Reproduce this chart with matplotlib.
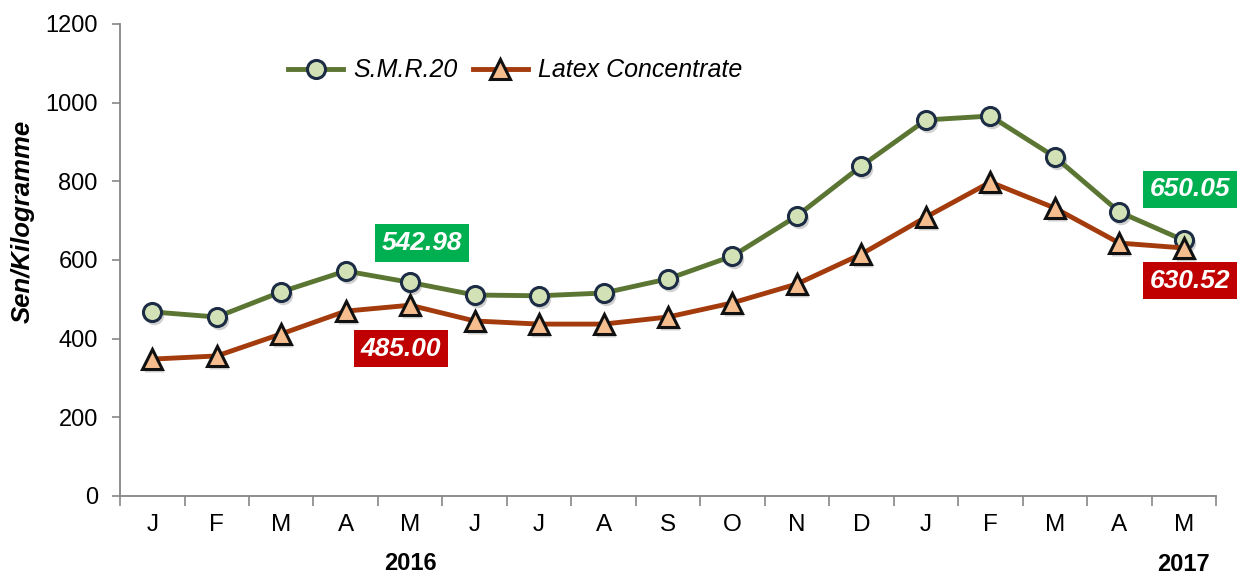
import numpy as np
import matplotlib.pyplot as plt
from matplotlib.transforms import offset_copy

# Monthly prices, Jan 2016 - May 2017
months = ['J', 'F', 'M', 'A', 'M', 'J', 'J', 'A', 'S', 'O', 'N', 'D', 'J', 'F', 'M', 'A', 'M']
smr20 = [468, 455, 519, 572, 542.98, 511, 509, 516, 552, 610, 712, 839, 956, 966, 862, 722, 650.05]
latex = [348, 356, 412, 470, 485.00, 445, 437, 437, 455, 491, 539, 615, 709, 798, 732, 643, 630.52]

plt.rcParams['font.family'] = ['Liberation Sans', 'DejaVu Sans']

fig = plt.figure(figsize=(12.44, 5.78), dpi=100)
ax = fig.add_axes([0.0965, 0.1419, 0.881, 0.8166])

x = np.arange(len(months))

# soft marker shadows
shadow_tr = offset_copy(ax.transData, fig=fig, x=2, y=-3, units='dots')
ax.plot(x, smr20, ls='none', marker='o', ms=14, mfc='#000000', mec='none',
        alpha=0.18, transform=shadow_tr, zorder=2)
ax.plot(x, latex, ls='none', marker='^', ms=15, mfc='#000000', mec='none',
        alpha=0.18, transform=shadow_tr, zorder=2)

ax.plot(x, smr20, color='#5b7533', lw=3.5, marker='o', ms=13,
        mfc='#d3e2b6', mec='#1c2c45', mew=2.2, label='S.M.R.20', zorder=3)
ax.plot(x, latex, color='#a33b0c', lw=3.5, marker='^', ms=14,
        mfc='#f6bd8f', mec='#111111', mew=2.2, label='Latex Concentrate', zorder=4)

ax.set_xlim(-0.5, len(months) - 0.5)
ax.set_ylim(0, 1200)
ax.set_yticks(range(0, 1201, 200))
ax.set_xticks(x)
ax.set_xticklabels(months)
ax.set_xticks(np.arange(-0.5, len(months), 1), minor=True)
ax.tick_params(axis='x', which='major', length=0, pad=13, labelsize=17.5)
ax.tick_params(axis='x', which='minor', length=7, color='#868686', width=1.2)
ax.tick_params(axis='y', length=6, color='#868686', width=1.2, labelsize=17, pad=10)

for s in ['top', 'right']:
    ax.spines[s].set_visible(False)
for s in ['left', 'bottom']:
    ax.spines[s].set_color('#868686')
    ax.spines[s].set_linewidth(1.3)

fig.text(0.018, 0.617, 'Sen/Kilogramme', rotation=90, ha='center', va='center',
         fontsize=18.5, fontweight='bold', style='italic')

# value callouts
def callout(xi, yv, text, fc):
    ax.text(xi, yv, text, ha='center', va='center', fontsize=19,
            fontweight='bold', style='italic', color='white',
            bbox=dict(boxstyle='square,pad=0.25', fc=fc, ec='none'), zorder=6)

callout(4.18, 643, '542.98', '#00b050')
callout(3.86, 374, '485.00', '#c00000')
callout(16.1, 780, '650.05', '#00b050')
callout(16.1, 547, '630.52', '#c00000')

# year labels
ax.text(4, -0.142, '2016', transform=ax.get_xaxis_transform(), ha='center', va='center',
        fontsize=17, fontweight='bold')
ax.text(16, -0.146, '2017', transform=ax.get_xaxis_transform(), ha='center', va='center',
        fontsize=17, fontweight='bold')

leg = ax.legend(loc='upper left', bbox_to_anchor=(0.133, 0.975), ncol=2, frameon=False,
                prop={'size': 18, 'style': 'italic'}, handlelength=2.2,
                columnspacing=0.6, handletextpad=0.4)

fig.savefig('out.png', dpi=100)
